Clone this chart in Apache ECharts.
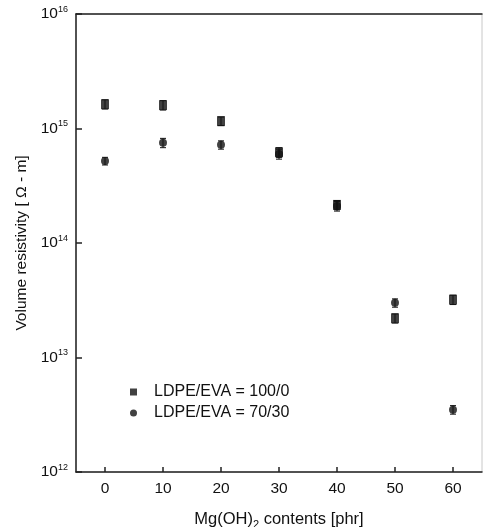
<!DOCTYPE html>
<html>
<head>
<meta charset="utf-8">
<script src="https://cdn.jsdelivr.net/npm/echarts@6/dist/echarts.min.js"></script>
<style>html,body{margin:0;padding:0;background:#fff;}#c{width:484px;height:527px;}</style>
</head>
<body>
<div id="c"></div>
<script>
const contents = [0, 10, 20, 30, 40, 50, 60];
const ldpe100 = [1.63e15, 1.6e15, 1.16e15, 6.2e14, 2.15e14, 2.2e13, 3.2e13];
const ldpe100Err = [0.15e15, 0.15e15, 0.1e15, 0.6e14, 0.2e14, 0.2e13, 0.3e13];
const ldpe70 = [5.2e14, 7.5e14, 7.2e14, 6.0e14, 2.1e14, 3.0e13, 3.5e12];
const ldpe70Err = [0.4e14, 0.7e14, 0.6e14, 0.6e14, 0.2e14, 0.25e13, 0.3e12];
const xTicks = [0, 10, 20, 30, 40, 50, 60];
const yExponents = [12, 13, 14, 15, 16];
const seriesNames = ['LDPE/EVA = 100/0', 'LDPE/EVA = 70/30'];

const font = 'Liberation Sans, Arial, sans-serif';
const ink = '#111';
const axisCol = '#222';

function errData(vals, errs) {
  return contents.map((x, i) => [x, vals[i] - errs[i], vals[i] + errs[i]]);
}
function errRender(params, api) {
  const x = api.value(0);
  const lo = api.coord([x, api.value(1)]);
  const hi = api.coord([x, api.value(2)]);
  const w = 3;
  const st = { stroke: ink, lineWidth: 1 };
  return {
    type: 'group',
    children: [
      { type: 'line', shape: { x1: lo[0], y1: lo[1], x2: hi[0], y2: hi[1] }, style: st },
      { type: 'line', shape: { x1: lo[0] - w, y1: lo[1], x2: lo[0] + w, y2: lo[1] }, style: st },
      { type: 'line', shape: { x1: hi[0] - w, y1: hi[1], x2: hi[0] + w, y2: hi[1] }, style: st }
    ]
  };
}

const chart = echarts.init(document.getElementById('c'), null, { renderer: 'canvas' });
chart.setOption({
  animation: false,
  backgroundColor: '#fff',
  grid: { left: 76, right: 2, top: 14, bottom: 55, containLabel: false, outerBoundsMode: 'none',
    show: true, borderColor: '#c8c8c8', borderWidth: 1 },
  legend: {
    orient: 'vertical',
    left: 125,
    top: 379,
    itemGap: 5,
    itemWidth: 7,
    itemHeight: 7,
    textStyle: { fontFamily: font, fontSize: 16, color: ink, padding: [0, 0, 0, 12] },
    data: [
      { name: seriesNames[0], icon: 'rect' },
      { name: seriesNames[1], icon: 'circle' }
    ]
  },
  xAxis: [{
    type: 'value',
    min: -5,
    max: 65,
    axisLine: { onZero: false, lineStyle: { color: axisCol, width: 1.5 } },
    axisTick: { inside: true, length: 5, customValues: xTicks, lineStyle: { color: axisCol, width: 1.5 } },
    splitLine: { show: false },
    axisLabel: {
      fontFamily: font, fontSize: 15.5, color: ink, margin: 9,
      customValues: xTicks
    },
    name: 'Mg(OH){sub|2} contents [phr]',
    nameLocation: 'middle',
    nameGap: 37,
    nameTextStyle: {
      fontFamily: font, fontSize: 16.5, color: ink,
      rich: { sub: { fontFamily: font, fontSize: 11, color: ink, padding: [10, 0, 0, 0] } }
    }
  }, {
    type: 'value',
    position: 'top',
    min: -5,
    max: 65,
    axisLine: { show: true, onZero: false, lineStyle: { color: axisCol, width: 1.5 } },
    axisTick: { show: false },
    axisLabel: { show: false },
    splitLine: { show: false }
  }],
  yAxis: {
    type: 'log',
    logBase: 10,
    min: Math.pow(10, yExponents[0]),
    max: Math.pow(10, yExponents[yExponents.length - 1]),
    axisLine: { onZero: false, lineStyle: { color: axisCol, width: 1.5 } },
    axisTick: { inside: true, length: 6, lineStyle: { color: axisCol, width: 1.5 } },
    minorTick: { show: false },
    splitLine: { show: false },
    axisLabel: {
      fontFamily: font, color: ink, margin: 8,
      formatter: function (v) {
        const e = Math.round(Math.log10(v));
        return '{b|10}{s|' + e + '}';
      },
      rich: {
        b: { fontFamily: font, fontSize: 15.5, color: ink },
        s: { fontFamily: font, fontSize: 9, color: ink, padding: [0, 0, 9, 0] }
      }
    },
    name: 'Volume resistivity [ Ω - m]',
    nameLocation: 'middle',
    nameGap: 46,
    nameTextStyle: { fontFamily: font, fontSize: 15.5, color: ink }
  },
  series: [
    {
      name: seriesNames[0],
      type: 'scatter',
      symbol: 'rect',
      symbolSize: [8, 10],
      itemStyle: { color: ink },
      data: contents.map((x, i) => [x, ldpe100[i]]),
      z: 3
    },
    {
      name: seriesNames[1],
      type: 'scatter',
      symbol: 'circle',
      symbolSize: 8,
      itemStyle: { color: ink },
      data: contents.map((x, i) => [x, ldpe70[i]]),
      z: 3
    },
    {
      name: 'err100',
      type: 'custom',
      renderItem: errRender,
      data: errData(ldpe100, ldpe100Err),
      encode: { x: 0, y: [1, 2] },
      z: 2
    },
    {
      name: 'err70',
      type: 'custom',
      renderItem: errRender,
      data: errData(ldpe70, ldpe70Err),
      encode: { x: 0, y: [1, 2] },
      z: 2
    }
  ]
});
</script>
</body>
</html>
